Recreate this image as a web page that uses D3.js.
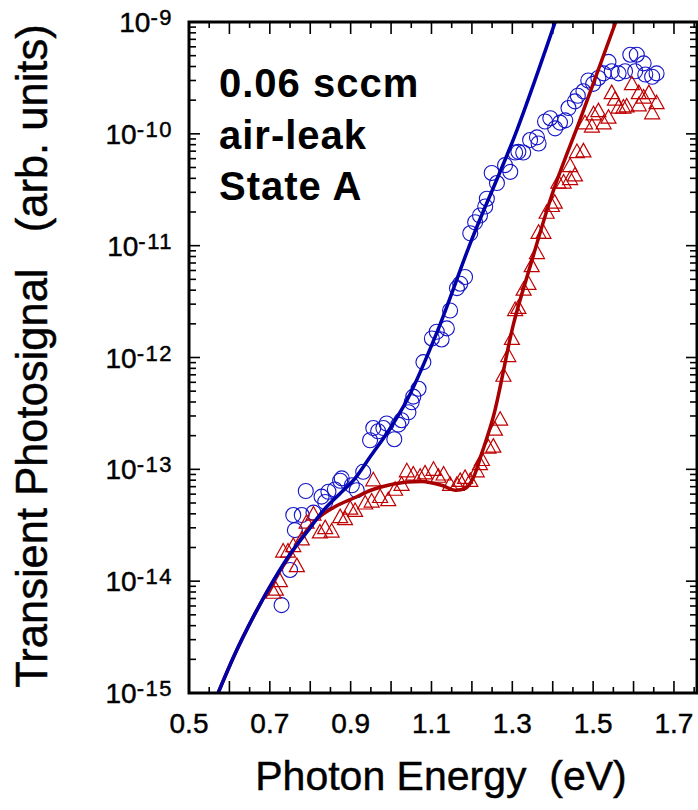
<!DOCTYPE html>
<html>
<head>
  <meta charset="utf-8">
  <script src="https://cdn.jsdelivr.net/npm/d3@7/dist/d3.min.js"></script>
  <style>
    body { margin: 0; background: #fff; }
    svg text { font-family: 'Liberation Sans', Arial, Helvetica, sans-serif; fill: #000; }
    .heavy { stroke: #000; stroke-width: 0.45px; }
  </style>
</head>
<body>
<script>
  var blueEnergy = [0.729, 0.750, 0.762, 0.758, 0.779, 0.789, 0.808, 0.828, 0.837, 0.845,
    0.861, 0.874, 0.878, 0.903, 0.915, 0.931, 0.948, 0.956, 0.968, 0.981,
    0.989, 1.008, 1.018, 1.026, 1.043, 1.051, 1.055, 1.068, 1.080, 1.101,
    1.113, 1.125, 1.138, 1.146, 1.163, 1.171, 1.183, 1.196, 1.208, 1.220,
    1.233, 1.237, 1.249, 1.262, 1.282, 1.295, 1.307, 1.315, 1.327, 1.344,
    1.361, 1.365, 1.381, 1.394, 1.406, 1.418, 1.431, 1.439, 1.455, 1.462,
    1.476, 1.488, 1.500, 1.513, 1.526, 1.538, 1.546, 1.563, 1.579, 1.592,
    1.608, 1.604, 1.625, 1.629, 1.646, 1.657];
  var blueSignal = [6.1e-15, 1.26e-14, 2.86e-14, 3.9e-14, 3.9e-14, 6.4e-14, 4.1e-14, 5.7e-14, 5.1e-14, 6.3e-14,
    6.6e-14, 7.9e-14, 8.3e-14, 7.2e-14, 6.5e-14, 9.5e-14, 1.82e-13, 2.34e-13, 2.19e-13, 2.34e-13,
    2.57e-13, 1.86e-13, 2.51e-13, 2.75e-13, 3.24e-13, 3.98e-13, 4.47e-13, 5.25e-13, 9.1e-13, 1.48e-12,
    1.70e-12, 1.45e-12, 1.82e-12, 2.63e-12, 4.17e-12, 4.57e-12, 5.25e-12, 1.29e-11, 1.62e-11, 1.86e-11,
    2.24e-11, 2.63e-11, 4.47e-11, 3.63e-11, 5.25e-11, 4.57e-11, 6.8e-11, 6.9e-11, 6.8e-11, 8.8e-11,
    9.3e-11, 8.2e-11, 1.29e-10, 1.38e-10, 1.12e-10, 1.26e-10, 1.32e-10, 1.70e-10, 1.95e-10, 2.19e-10,
    2.4e-10, 3.0e-10, 2.8e-10, 3.16e-10, 3.47e-10, 4.4e-10, 3.63e-10, 3.47e-10, 3.63e-10, 5.1e-10,
    5.1e-10, 3.63e-10, 4.27e-10, 3.39e-10, 3.24e-10, 3.47e-10];

  var redEnergy = [0.709, 0.715, 0.725, 0.733, 0.745, 0.767, 0.758, 0.779, 0.791, 0.808,
    0.824, 0.837, 0.853, 0.874, 0.886, 0.899, 0.911, 0.936, 0.952, 0.956,
    0.973, 0.993, 1.010, 1.026, 1.039, 1.055, 1.072, 1.084, 1.105, 1.117,
    1.130, 1.146, 1.163, 1.171, 1.183, 1.196, 1.212, 1.220, 1.225, 1.241,
    1.253, 1.257, 1.270, 1.278, 1.290, 1.299, 1.307, 1.315, 1.328, 1.340,
    1.348, 1.361, 1.365, 1.377, 1.385, 1.398, 1.405, 1.414, 1.427, 1.443,
    1.455, 1.443, 1.460, 1.476, 1.480, 1.497, 1.501, 1.513, 1.526, 1.538,
    1.546, 1.554, 1.563, 1.575, 1.583, 1.596, 1.613, 1.613, 1.625, 1.638,
    1.646, 1.657];
  var redSignal = [7.8e-15, 8.3e-15, 9.9e-15, 1.82e-14, 1.82e-14, 1.35e-14, 2.04e-14, 2.34e-14, 3.3e-14, 3.9e-14,
    2.7e-14, 2.95e-14, 2.75e-14, 3.7e-14, 3.55e-14, 4.4e-14, 4.2e-14, 4.9e-14, 5.1e-14, 7.9e-14,
    5.6e-14, 5.25e-14, 6.5e-14, 7.2e-14, 9.5e-14, 8.9e-14, 8.5e-14, 9.1e-14, 9.8e-14, 8.5e-14,
    8.9e-14, 7.2e-14, 7.2e-14, 7.8e-14, 8.3e-14, 7.8e-14, 9.5e-14, 1.10e-13, 1.20e-13, 1.55e-13,
    1.58e-13, 2.24e-13, 2.75e-13, 6.8e-13, 1.02e-12, 1.45e-12, 2.63e-12, 2.75e-12, 4.0e-12, 4.5e-12,
    6.5e-12, 8.5e-12, 1.29e-11, 1.29e-11, 1.95e-11, 2.24e-11, 2.4e-11, 3.63e-11, 3.63e-11, 3.9e-11,
    4.2e-11, 5.1e-11, 6.8e-11, 6.9e-11, 1.23e-10, 1.15e-10, 1.48e-10, 1.58e-10, 1.23e-10, 1.38e-10,
    2.29e-10, 2.0e-10, 1.70e-10, 1.70e-10, 1.74e-10, 2.75e-10, 2.29e-10, 1.78e-10, 2.09e-10, 2.29e-10,
    1.51e-10, 1.86e-10];

  /* fitted curves */
  var blueFitEnergy = [0.572, 0.61, 0.663, 0.70, 0.746, 0.80, 0.828, 0.87, 0.911, 0.95, 0.993, 1.04, 1.113, 1.196, 1.311, 1.406];
  var blueFitSignal = [1e-15, 2.09e-15, 5.1e-15, 8.9e-15, 1.66e-14, 3.0e-14, 4.1e-14, 5.9e-14, 8.3e-14, 1.32e-13, 2.19e-13, 4.2e-13, 1.66e-12, 1.05e-11, 1.07e-10, 1e-9];
  var redFitEnergy = [0.572, 0.61, 0.663, 0.70, 0.746, 0.78, 0.812, 0.86, 0.911, 0.95, 0.993, 1.04, 1.076, 1.125, 1.16, 1.185, 1.204, 1.225, 1.253, 1.303, 1.344, 1.394, 1.47, 1.556];
  var redFitSignal = [1e-15, 2.09e-15, 5.1e-15, 8.9e-15, 1.62e-14, 2.5e-14, 3.47e-14, 4.6e-14, 5.6e-14, 6.5e-14, 7.2e-14, 7.7e-14, 7.8e-14, 7.2e-14, 6.5e-14, 6.8e-14, 8.5e-14, 1.41e-13, 2.95e-13, 2.0e-12, 6.5e-12, 2.57e-11, 1.41e-10, 1e-9];

  var xLabels = [0.5, 0.7, 0.9, 1.1, 1.3, 1.5, 1.7];
  var yDecades = [-15, -14, -13, -12, -11, -10, -9];
  var noteLines = ["0.06 sccm", "air-leak", "State A"];

  var width = 698, height = 810;
  var pLeft = 189, pRight = 697, pTop = 22, pBottom = 693;

  var svg = d3.select("body").append("svg")
      .attr("width", width)
      .attr("height", height);

  var x = d3.scaleLinear().domain([0.5, 1.757]).range([pLeft, pRight]);
  var y = d3.scaleLog().domain([1e-15, 1e-9]).range([pBottom, pTop]);

  svg.append("clipPath").attr("id", "plot")
    .append("rect")
      .attr("x", pLeft).attr("y", pTop)
      .attr("width", pRight - pLeft).attr("height", pBottom - pTop);

  // ticks, all pointing inward
  var xMajor = d3.range(0.5, 1.751, 0.1);
  var xMinor = d3.range(0.55, 1.751, 0.1);
  var yMajor = yDecades.map(function (d) { return Math.pow(10, d); });
  var yMinor = [];
  yDecades.slice(0, -1).forEach(function (d) {
    for (var k = 2; k <= 9; k++) yMinor.push(k * Math.pow(10, d));
  });

  var ticks = svg.append("g").attr("stroke", "#000").attr("stroke-width", 1.6);
  function xTicks(vals, len) {
    ticks.selectAll(null).data(vals).enter().append("line")
      .attr("x1", function (d) { return x(d); }).attr("x2", function (d) { return x(d); })
      .attr("y1", pBottom).attr("y2", pBottom - len);
    ticks.selectAll(null).data(vals).enter().append("line")
      .attr("x1", function (d) { return x(d); }).attr("x2", function (d) { return x(d); })
      .attr("y1", pTop).attr("y2", pTop + len);
  }
  function yTicks(vals, len) {
    ticks.selectAll(null).data(vals).enter().append("line")
      .attr("y1", function (d) { return y(d); }).attr("y2", function (d) { return y(d); })
      .attr("x1", pLeft).attr("x2", pLeft + len);
    ticks.selectAll(null).data(vals).enter().append("line")
      .attr("y1", function (d) { return y(d); }).attr("y2", function (d) { return y(d); })
      .attr("x1", pRight).attr("x2", pRight - len);
  }
  xTicks(xMajor, 12);
  xTicks(xMinor, 6);
  yTicks(yMajor, 11);
  yTicks(yMinor, 7);

  // markers
  var blueData = blueEnergy.map(function (e, i) { return [e, blueSignal[i]]; });
  var redData = redEnergy.map(function (e, i) { return [e, redSignal[i]]; });

  var marks = svg.append("g").attr("clip-path", "url(#plot)");
  marks.selectAll("circle").data(blueData).enter().append("circle")
      .attr("cx", function (d) { return x(d[0]); })
      .attr("cy", function (d) { return y(d[1]); })
      .attr("r", 7.5)
      .attr("fill", "none")
      .attr("stroke", "#1414c8")
      .attr("stroke-width", 1.1);

  marks.selectAll("path.tri").data(redData).enter().append("path")
      .attr("class", "tri")
      .attr("d", "M0,-8.5L7.5,5L-7.5,5Z")
      .attr("transform", function (d) { return "translate(" + x(d[0]) + "," + y(d[1]) + ")"; })
      .attr("fill", "none")
      .attr("stroke", "#c00000")
      .attr("stroke-width", 1.2);

  // fit curves
  var line = d3.line()
      .x(function (d) { return x(d[0]); })
      .y(function (d) { return y(d[1]); })
      .curve(d3.curveMonotoneX);

  var redFit = redFitEnergy.map(function (e, i) { return [e, redFitSignal[i]]; });
  var blueFit = blueFitEnergy.map(function (e, i) { return [e, blueFitSignal[i]]; });

  marks.append("path").datum(redFit)
      .attr("d", line)
      .attr("fill", "none")
      .attr("stroke", "#a80000")
      .attr("stroke-width", 3.5);
  marks.append("path").datum(blueFit)
      .attr("d", line)
      .attr("fill", "none")
      .attr("stroke", "#0000a8")
      .attr("stroke-width", 3.5);

  // frame
  svg.append("rect")
      .attr("x", pLeft).attr("y", pTop)
      .attr("width", pRight - pLeft).attr("height", pBottom - pTop)
      .attr("fill", "none")
      .attr("stroke", "#000")
      .attr("stroke-width", 3);

  // tick labels
  svg.selectAll("text.xl").data(xLabels).enter().append("text")
      .attr("class", "xl heavy")
      .attr("x", function (d) { return x(d); })
      .attr("y", 733)
      .attr("text-anchor", "middle")
      .attr("font-size", 28)
      .text(function (d) { return d.toFixed(1); });

  var yl = svg.selectAll("text.yl").data(yDecades).enter().append("text")
      .attr("class", "yl heavy")
      .attr("x", 173)
      .attr("y", function (d) { return y(Math.pow(10, d)) + 10; })
      .attr("text-anchor", "end")
      .attr("font-size", 28);
  yl.append("tspan").text("10");
  yl.append("tspan").attr("dy", -7).attr("font-size", 22)
      .attr("letter-spacing", 1.5)
      .text(function (d) { return String(d); });

  // axis titles
  svg.append("text")
      .attr("class", "heavy")
      .attr("x", 441)
      .attr("y", 790)
      .attr("text-anchor", "middle")
      .attr("font-size", 41)
      .attr("xml:space", "preserve")
      .text("Photon Energy  (eV)");

  svg.append("text")
      .attr("class", "heavy")
      .attr("transform", "translate(47,356) rotate(-90)")
      .attr("text-anchor", "middle")
      .attr("font-size", 43.5)
      .attr("xml:space", "preserve")
      .text("Transient Photosignal   (arb. units)");

  // annotation
  svg.selectAll("text.note").data(noteLines).enter().append("text")
      .attr("class", "note")
      .attr("x", 219)
      .attr("y", function (d, i) { return 97 + i * 51.5; })
      .attr("font-size", 40)
      .attr("font-weight", "bold")
      .attr("letter-spacing", 1)
      .text(function (d) { return d; });
</script>
</body>
</html>
